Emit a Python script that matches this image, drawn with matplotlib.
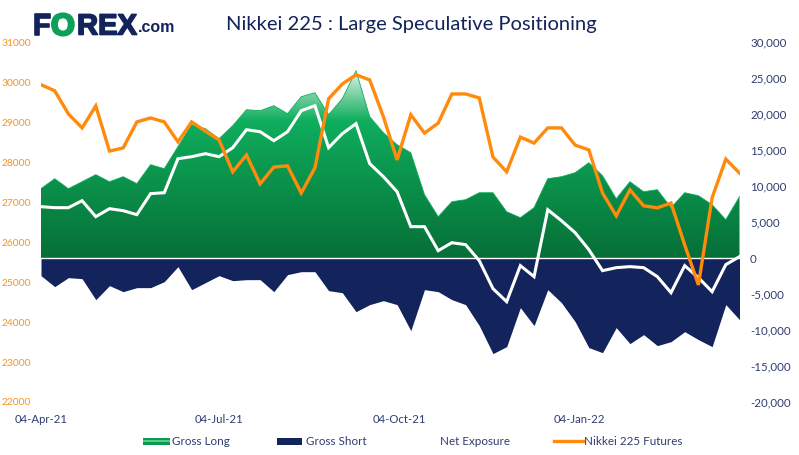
"""Nikkei 225 large speculative positioning (COT style chart)."""
import matplotlib

matplotlib.use("Agg")
import matplotlib.dates as mdates
import matplotlib.patheffects as pe
import matplotlib.pyplot as plt
import numpy as np
import pandas as pd
from matplotlib.colors import LinearSegmentedColormap
from matplotlib.patches import Rectangle
from matplotlib.transforms import ScaledTranslation

NAVY = "#13235B"
LABEL = "#2F3D70"
ORANGE = "#FF8A0C"
TICK_ORANGE = "#F7941D"
GREEN = "#0FAE5E"

weeks = pd.date_range("2021-04-04", periods=52, freq="7D")

gross_long = [9660, 11050, 9660, 10630, 11610, 10630, 11330, 10360, 13000, 12440,
              15500, 18560, 18000, 16610, 18420, 20640, 20500, 21200, 20090, 22450,
              23000, 19950, 22170, 26060, 19670, 17440, 15780, 14660, 8830, 5770,
              7850, 8130, 9100, 9100, 6460, 5630, 7020, 11050, 11330, 11880,
              13270, 11470, 8270, 10630, 9240, 9520, 7020, 9100, 8690, 7440,
              5350, 8550]
gross_short = [-2430, -3960, -2710, -2850, -5770, -3820, -4660, -4100, -4100, -3270,
               -1180, -4380, -3410, -2430, -3130, -2990, -2990, -4660, -2290, -1880,
               -1880, -4520, -4800, -7440, -6460, -5910, -6460, -10080, -4380, -4660,
               -5770, -6460, -9380, -13270, -12300, -6880, -9380, -4380, -6190, -8830,
               -12440, -13140, -9660, -11880, -10630, -12160, -11610, -10220, -11330, -12300,
               -6460, -8550]
net_exposure = [7160, 7020, 7020, 7990, 5770, 6880, 6600, 6050, 8970, 9100,
                13830, 14110, 14530, 14110, 15360, 17860, 17580, 16330, 17580, 20500,
                21200, 15360, 17310, 18700, 13140, 11330, 9240, 4380, 4380, 1040,
                2150, 1880, -350, -4240, -6050, -1040, -2570, 6740, 5210, 3540,
                1180, -1740, -1320, -1180, -1320, -2570, -4800, -1040, -2710, -4660,
                -900, 210]
futures = [29940, 29790, 29210, 28860, 29410, 28280, 28360, 29010, 29110, 29010,
           28510, 29010, 28780, 28560, 27760, 28180, 27460, 27880, 27910, 27230,
           27860, 29590, 29960, 30190, 30060, 29140, 28060, 29190, 28730, 28980,
           29710, 29710, 29610, 28130, 27760, 28630, 28480, 28860, 28860, 28430,
           28310, 27230, 26660, 27310, 26910, 26860, 26980, 25930, 24930, 27110,
           28080, 27730]

left_ticks = [22000, 23000, 24000, 25000, 26000, 27000, 28000, 29000, 30000, 31000]
right_ticks = [-20000, -15000, -10000, -5000, 0, 5000, 10000, 15000, 20000, 25000, 30000]
date_ticks = ["2021-04-04", "2021-07-04", "2021-10-04", "2022-01-04"]
date_labels = ["04-Apr-21", "04-Jul-21", "04-Oct-21", "04-Jan-22"]

plt.rcParams["font.family"] = ["Lato", "DejaVu Sans"]

W, H = 799, 456
fig = plt.figure(figsize=(W / 100, H / 100), dpi=100)


def fx(px):
    return px / W


def fy(px):
    return 1 - px / H


ax = fig.add_axes([fx(41), fy(403), fx(739.5) - fx(41), (403 - 43.4) / H])
ax.set_xlim(weeks[0], weeks[-1])
ax.set_ylim(-20000, 30000)

green_map = LinearSegmentedColormap.from_list(
    "long_fade",
    [(0, "#066F38"), (0.5, "#0C9A50"), (0.72, GREEN), (0.82, "#5CC78F"), (1, "#F0F8F3")],
)
long_area = ax.fill_between(weeks, 0, gross_long, color="none", lw=0)
grad = np.linspace(1, 0, 256).reshape(-1, 1)
x0, x1 = mdates.date2num(weeks[0]), mdates.date2num(weeks[-1])
img = ax.imshow(grad, cmap=green_map, aspect="auto", extent=(x0, x1, 0, 26500), zorder=1)
img.set_clip_path(long_area.get_paths()[0], transform=ax.transData)
ax.set_xlim(weeks[0], weeks[-1])
ax.set_ylim(-20000, 30000)
ax.plot(weeks, gross_long, color=GREEN, lw=0.6, zorder=1.5)

ax.fill_between(weeks, 0, gross_short, color=NAVY, lw=0, zorder=2)
ax.axhline(0, color="white", lw=1, zorder=3)
ax.plot(weeks, net_exposure, color="white", lw=2.2, zorder=4, solid_joinstyle="miter")

ax_fut = ax.twinx()

ax.yaxis.tick_right()
ax.set_yticks(right_ticks)
ax.set_yticklabels([f"{v:,}" for v in right_ticks], fontsize=8.3, color=LABEL,
                   va="center_baseline")
ax.tick_params(axis="y", length=0, pad=7.6)
ax.set_xticks(pd.to_datetime(date_ticks))
ax.set_xticklabels(date_labels, fontsize=8.2, color=LABEL)
ax.tick_params(axis="x", length=0, pad=8)

ax_fut.set_ylim(22000, 31000)
ax_fut.plot(weeks, futures, color=ORANGE, lw=2.4, zorder=5, solid_joinstyle="miter")
ax_fut.yaxis.tick_left()
ax_fut.set_yticks(left_ticks)
ax_fut.set_yticklabels([str(v) for v in left_ticks], fontsize=7.4, color=TICK_ORANGE,
                       va="center_baseline")
ax_fut.tick_params(axis="y", length=0, pad=7.2)
ax_fut.patch.set_visible(False)

# y labels sit a pixel higher than the axis scale would put them
nudge = ScaledTranslation(0, 1 / 100, fig.dpi_scale_trans)
for label in ax.get_yticklabels() + ax_fut.get_yticklabels():
    label.set_transform(label.get_transform() + nudge)

for a in (ax, ax_fut):
    for spine in a.spines.values():
        spine.set_visible(False)

# title
fig.text(fx(411), fy(24.5), "Nikkei 225 : Large Speculative Positioning", color=NAVY,
         fontsize=14.5, ha="center", va="center")

# logo, built from text pieces
logo = {"family": ["Liberation Sans"], "fontweight": "bold", "va": "center_baseline"}
heavy = [pe.withStroke(linewidth=1.2, foreground=NAVY)]
fig.text(fx(33), fy(24.5), "F", color=NAVY, fontsize=21, ha="left", path_effects=heavy, **logo)
fig.text(fx(51), fy(24.5), "O", color="#0E9F58", fontsize=22, ha="left",
         path_effects=[pe.withStroke(linewidth=1.8, foreground="#0E9F58")], **logo)
for bar_y in (21, 26):
    fig.add_artist(Rectangle((fx(63), fy(bar_y + 2)), 11 / W, 2 / H,
                             transform=fig.transFigure, color="white", lw=0))
fig.text(fx(77), fy(24.5), "REX", color=NAVY, fontsize=21, ha="left", path_effects=heavy, **logo)
fig.text(fx(138), fy(26), ".com", color=NAVY, fontsize=11.5, ha="left", **logo)


# legend, drawn by hand to hit the reference spacing
def swatch(x0_px, x1_px, color):
    fig.add_artist(Rectangle((fx(x0_px), fy(445.5)), fx(x1_px) - fx(x0_px), 7 / H,
                             transform=fig.transFigure, color=color, lw=0))


swatch(143, 170, "#0B9A52")
fig.add_artist(Rectangle((fx(143), fy(443)), fx(170) - fx(143), 2 / H,
                         transform=fig.transFigure, color="#5CC78F", lw=0))
swatch(277, 302, NAVY)
fig.add_artist(plt.Line2D([fx(554), fx(583)], [fy(442), fy(442)], color=ORANGE, lw=2.4,
                          transform=fig.transFigure))
for x_px, text in [(172.5, "Gross Long"), (306, "Gross Short"),
                   (440, "Net Exposure"), (584.5, "Nikkei 225 Futures")]:
    fig.text(fx(x_px), fy(442), text, color=LABEL, fontsize=8.4, ha="left", va="center")

fig.savefig("out.png", dpi=100, facecolor="white")
